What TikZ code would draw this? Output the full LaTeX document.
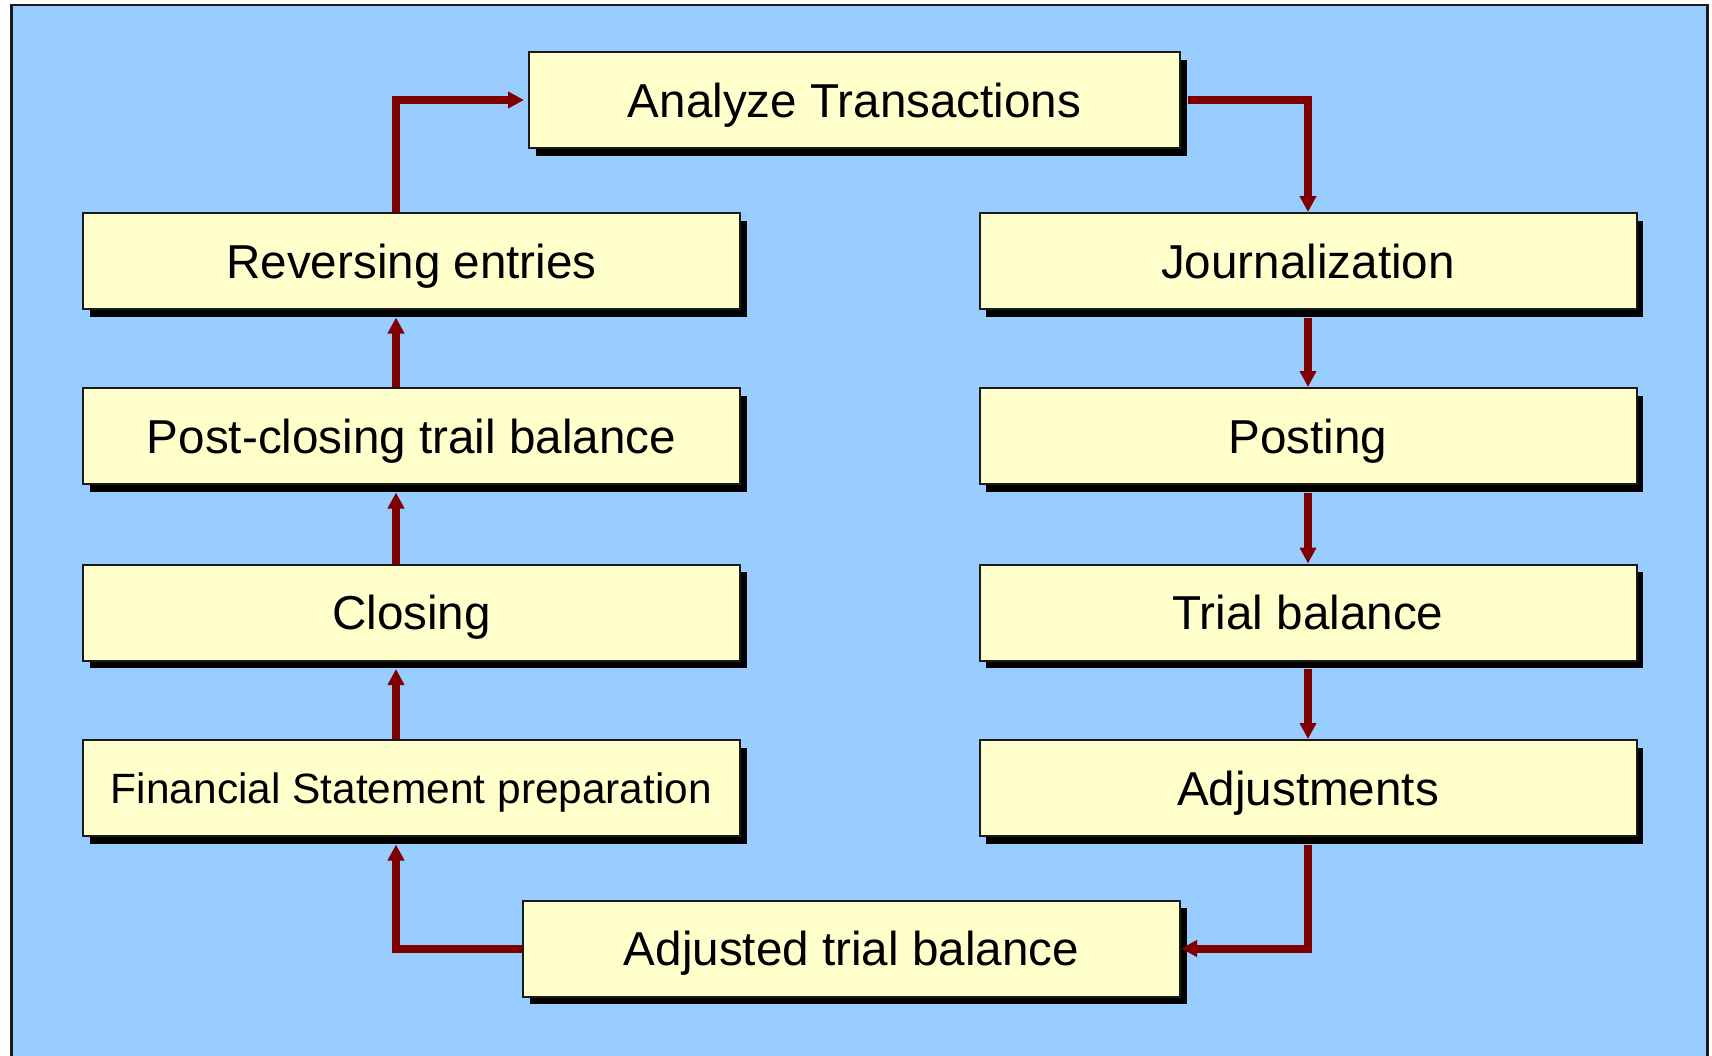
\documentclass[tikz,border=0pt]{standalone}
\usepackage{fontspec}
\setmainfont{Liberation Sans}
\usetikzlibrary{arrows.meta,shadows}

\definecolor{panelblue}{HTML}{99CCFF}
\definecolor{boxyellow}{HTML}{FFFFCC}
\definecolor{flowred}{HTML}{800000}
\definecolor{framegray}{HTML}{1A1A1A}

\tikzset{
  stepbox/.style={
    draw=framegray, line width=2pt, fill=boxyellow,
    rectangle, inner sep=0pt,
    minimum width=657pt, minimum height=96pt,
    font=\fontsize{47.6}{52}\selectfont,
    text height=34pt, text depth=0pt,
    general shadow={fill=black, shadow xshift=6.5pt, shadow yshift=-7.5pt}
  },
  widebox/.style={stepbox, minimum width=651pt},
  smalltext/.style={font=\fontsize{42.4}{46}\selectfont, text height=30.4pt},
  flow/.style={draw=flowred, line width=8pt,
    -{Triangle[width=16pt,length=16pt]}}
}

\begin{document}
\begin{tikzpicture}[x=1pt,y=-1pt]
  \useasboundingbox (0,0) rectangle (1712,1055);
  \fill[white] (0,0) rectangle (1712,1055);
  % blue panel with its frame, running off the lower edge
  \draw[framegray, line width=2.5pt, fill=panelblue] (11.5,5) rectangle (1707.5,1075);

  % columns the connectors run along
  \coordinate (lx) at (396,0);
  \coordinate (rx) at (1308,0);

  % top and bottom boxes
  \node[widebox] (an)  at (854.5,100)  {Analyze Transactions};
  \node[stepbox] (atb) at (851.5,948.5) {Adjusted trial balance};

  % left column
  \node[stepbox] (rev) at (411.5,261)   {Reversing entries};
  \node[stepbox] (pcb) at (411.5,436)   {Post-closing trail balance};
  \node[stepbox] (clo) at (411.5,612.5) {Closing};
  \node[stepbox,smalltext] (fin) at (411.5,788) {Financial Statement preparation};

  % right column
  \node[stepbox] (jr)  at (1308,261)   {Journalization};
  \node[stepbox] (po)  at (1308,436)   {Posting};
  \node[stepbox] (tb)  at (1308,612.5) {Trial balance};
  \node[stepbox] (adj) at (1308,788)   {Adjustments};

  % the cycle
  \draw[flow, shorten >=4pt] (rev.north -| lx) |- (an.west);
  \draw[flow] ([xshift=7pt]an.east) -| (jr.north);
  \draw[flow] ([yshift=-7.5pt]jr.south) -- (po.north);
  \draw[flow] ([yshift=-7.5pt]po.south) -- (tb.north);
  \draw[flow] ([yshift=-7.5pt]tb.south) -- (adj.north);
  \draw[flow] ([yshift=-7.5pt]adj.south) |- (atb.east);
  \draw[flow] (atb.west) -| ([yshift=-7.5pt]fin.south -| lx);
  \draw[flow] (fin.north -| lx) -- ([yshift=-7.5pt]clo.south -| lx);
  \draw[flow] (clo.north -| lx) -- ([yshift=-7.5pt]pcb.south -| lx);
  \draw[flow] (pcb.north -| lx) -- ([yshift=-7.5pt]rev.south -| lx);
\end{tikzpicture}
\end{document}
